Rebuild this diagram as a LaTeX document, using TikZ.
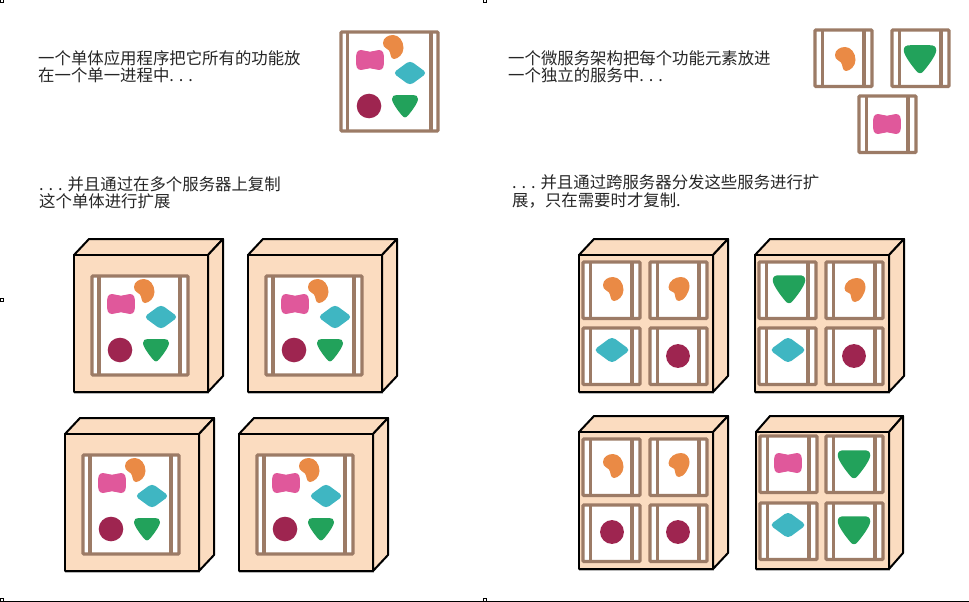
\documentclass[tikz,border=0pt]{standalone}
\usepackage{fontspec}
\newfontfamily\cjk{Noto Sans CJK SC}
\definecolor{framec}{HTML}{9C7B66}
\definecolor{cubec}{HTML}{FBDCC0}
\definecolor{pinkc}{HTML}{E0589B}
\definecolor{orangec}{HTML}{EA8A45}
\definecolor{tealc}{HTML}{3FB6C2}
\definecolor{crimsonc}{HTML}{9E2550}
\definecolor{greenc}{HTML}{22A25B}
\tikzset{
  framebox/.style={draw=framec,line width=3.1pt,fill=white,rounded corners=0.8pt},
  frameline/.style={draw=framec,line width=3.1pt},
  cubeface/.style={draw=black,line width=2pt,fill=cubec,line join=round},
  cubeshadow/.style={fill=black,opacity=0.28},
  caption/.style={font=\cjk\fontsize{16.4}{17.2}\selectfont,align=left,anchor=west,inner sep=0pt,text=black!85},
  handle/.style={draw=black,line width=0.8pt,fill=white},
  edgeline/.style={draw=black,line width=1pt}
}
\newcommand{\blobpink}[3][1]{\fill[pinkc,shift={(#2,#3)},scale=#1] (-13.8,0) .. controls (-14.2,-6) and (-13.5,-10) .. (-9,-10) .. controls (-6,-10) and (-3.5,-8.3) .. (0,-8.3) .. controls (3.5,-8.3) and (6,-10) .. (9,-10) .. controls (13.5,-10) and (14.2,-6) .. (13.8,0) .. controls (14.2,6) and (13.5,10) .. (9,10) .. controls (6,10) and (3.5,8.3) .. (0,8.3) .. controls (-3.5,8.3) and (-6,10) .. (-9,10) .. controls (-13.5,10) and (-14.2,6) .. (-13.8,0) -- cycle;}
\newcommand{\bloborange}[3][1]{\fill[orangec,shift={(#2,#3)},scale=#1] (-10,-4) .. controls (-10,-9) and (-5,-12) .. (0,-12) .. controls (6,-12) and (10.5,-6) .. (10.5,1) .. controls (10.5,7) and (5,12) .. (1,12) .. controls (-3,12) and (-2,6) .. (-4,3.5) .. controls (-6,1) and (-10,1) .. (-10,-4) -- cycle;}
\newcommand{\bloborangeb}[3][1]{\fill[orangec,shift={(#2,#3)},scale=#1] (-10.5,-2) .. controls (-10,-8) and (-4,-12) .. (2,-12) .. controls (7,-12) and (10.5,-8) .. (10.5,-3) .. controls (10.5,3) and (5,12) .. (0,12) .. controls (-4,12) and (-3.5,7) .. (-4.5,4.5) .. controls (-5.5,2) and (-10.5,3) .. (-10.5,-2) -- cycle;}
\newcommand{\blobteal}[3][1]{\fill[tealc,shift={(#2,#3)},scale=#1,rounded corners=4pt] (-17,0) -- (0,-12.5) -- (17,0) -- (0,12.5) -- cycle;}
\newcommand{\blobcrimson}[3][1]{\fill[crimsonc] (#2,#3) circle[radius=#1*12.3];}
\newcommand{\blobgreen}[3][1]{\fill[greenc,shift={(#2,#3)},scale=#1] (-13,-7) .. controls (-13,-10) and (-11,-11) .. (-8,-11) -- (8,-11) .. controls (11,-11) and (13,-10) .. (13,-7) .. controls (13,-3) and (6,6) .. (3,9.5) .. controls (1,12) and (-1,12) .. (-3,9.5) .. controls (-6,6) and (-13,-3) .. (-13,-7) -- cycle;}
\newcommand{\bars}[6]{%
  \draw[framebox] (#1,#2) rectangle ++(#3,#4);
  \draw[frameline] (#1+#5,#2-1) -- (#1+#5,#2+#4);
  \draw[frameline] (#1+#6,#2-1) -- (#1+#6,#2+#4);
}
\newcommand{\bigbars}[2]{\bars{#1}{#2}{96}{99}{7}{88}}
\newcommand{\smallbars}[2]{\bars{#1}{#2}{57}{56.5}{7.5}{49}}
\newcommand{\monolith}[2]{%
  \bigbars{#1}{#2}
  \bloborange{#1+52}{#2+15}
  \blobpink{#1+29}{#2+28}
  \blobteal{#1+69}{#2+41}
  \blobcrimson{#1+28}{#2+74}
  \blobgreen{#1+64}{#2+74}
}
\newcommand{\cube}[6]{%
  \fill[cubeshadow] (#1-0.5,#2+2) rectangle (#3+0.8,#4+2.4);
  \draw[cubeface] (#1,#2) -- (#1+#5,#2-#6) -- (#3+#5,#2-#6) -- (#3,#2) -- cycle;
  \draw[cubeface] (#3,#2) -- (#3+#5,#2-#6) -- (#3+#5,#4-#6) -- (#3,#4) -- cycle;
  \draw[cubeface] (#1,#2) rectangle (#3,#4);
}
\begin{document}
\begin{tikzpicture}[x=1pt,y=-1pt]
\useasboundingbox (0,0) rectangle (969,602);
\fill[white] (0,0) rectangle (969,602);

\draw[edgeline] (4,601.3) -- (969,601.3);
\foreach \hx/\hy in {2/1,485/1,2/300,2/600,485/600}
  \draw[handle] (\hx-1.8,\hy-1.8) rectangle (\hx+1.8,\hy+1.8);

\node[caption] (capA) at (38,66.5) {一个单体应用程序把它所有的功能放\\在一个单一进程中. . .};
\node[caption] (capB) at (508,67) {一个微服务架构把每个功能元素放进\\一个独立的服务中. . .};
\node[caption] (capC) at (39,192.5) {. . . 并且通过在多个服务器上复制\\这个单体进行扩展};
\node[caption] (capD) at (512,191.5) {. . . 并且通过跨服务器分发这些服务进行扩\\展，只在需要时才复制.};

\bars{341}{32}{97}{99}{6.5}{90}
\bloborange{393}{47}
\blobpink{370}{60}
\blobteal{410}{73}
\blobcrimson{369}{106}
\blobgreen{405}{106}

\smallbars{815}{30}
\bloborange{845}{59}
\smallbars{892}{30}
\blobgreen[1.25]{920}{59}
\smallbars{859}{96}
\blobpink{887}{124}

\cube{74}{255}{208}{392}{15}{16}
\monolith{92}{276}
\cube{248}{255}{382}{392}{15}{16}
\monolith{266}{276}
\cube{65}{434}{199}{571}{15}{16}
\monolith{83}{455}
\cube{239}{434}{373}{571}{15}{16}
\monolith{257}{455}

\cube{579}{255}{713}{392}{15}{16}
\smallbars{583}{262}
\smallbars{650}{262}
\smallbars{583}{328}
\smallbars{650}{328}
\bloborange{613}{289}
\bloborangeb{679}{289}
\blobteal[1.07]{612}{350}
\blobcrimson[0.97]{678}{356}

\cube{755}{255}{889}{392}{15}{16}
\smallbars{759}{262}
\smallbars{826}{262}
\smallbars{759}{328}
\smallbars{826}{328}
\blobgreen[1.25]{789}{289}
\bloborangeb{855}{290}
\blobteal[1.07]{788}{350}
\blobcrimson[0.97]{854}{356}

\cube{579}{432}{713}{569}{15}{16}
\smallbars{583}{439}
\smallbars{650}{439}
\smallbars{583}{505}
\smallbars{650}{505}
\bloborange{613}{466}
\bloborangeb{679}{465}
\blobcrimson[0.97]{612}{532}
\blobcrimson[0.97]{678}{532}

\cube{756}{432}{889}{569}{14}{16}
\smallbars{760}{436}
\smallbars{826}{436}
\smallbars{760}{503}
\smallbars{826}{503}
\blobpink{788}{463}
\blobgreen[1.25]{854}{464}
\blobteal[1.07]{788}{525}
\blobgreen[1.25]{854}{530}
\end{tikzpicture}
\end{document}
